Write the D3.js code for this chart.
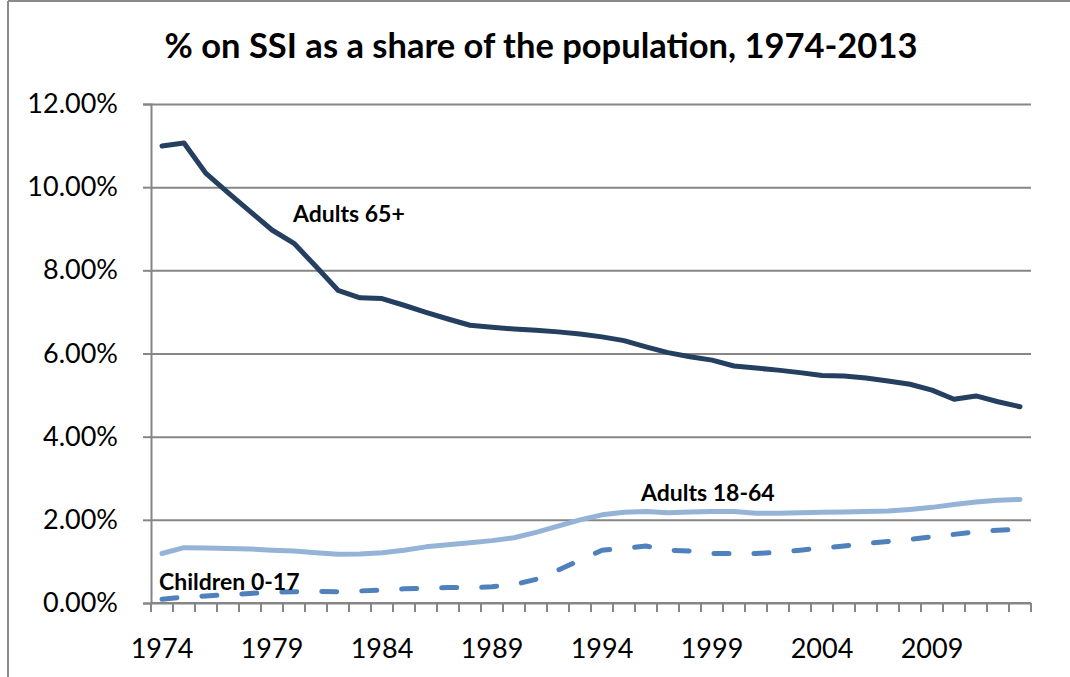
<!DOCTYPE html>
<html>
<head>
<meta charset="utf-8">
<script src="https://cdn.jsdelivr.net/npm/d3@7"></script>
<style>
  html, body { margin: 0; padding: 0; background: #fff; }
  svg { display: block; }
  text { font-family: Lato, "Open Sans", "Liberation Sans", sans-serif; fill: #000; }
</style>
</head>
<body>
<svg id="chart" width="1070" height="677"></svg>
<script>
const years = d3.range(1974, 2014);
const tickYears = [1974, 1979, 1984, 1989, 1994, 1999, 2004, 2009];
const yTicks = [0, 2, 4, 6, 8, 10, 12];

const adults65 = [10.99, 11.06, 10.33, 9.87, 9.42, 8.97, 8.65, 8.09, 7.52, 7.34,
                  7.32, 7.16, 6.99, 6.83, 6.68, 6.63, 6.59, 6.56, 6.52, 6.47,
                  6.40, 6.31, 6.16, 6.02, 5.92, 5.84, 5.70, 5.65, 5.60, 5.54,
                  5.47, 5.46, 5.41, 5.34, 5.26, 5.12, 4.90, 4.98, 4.84, 4.72];
const adults1864 = [1.19, 1.33, 1.32, 1.31, 1.30, 1.27, 1.25, 1.21, 1.17, 1.18,
                    1.21, 1.27, 1.35, 1.40, 1.45, 1.50, 1.57, 1.70, 1.85, 2.00,
                    2.12, 2.18, 2.20, 2.17, 2.19, 2.20, 2.20, 2.16, 2.16, 2.17,
                    2.18, 2.19, 2.20, 2.21, 2.25, 2.30, 2.37, 2.43, 2.47, 2.49];
const children = [0.09, 0.14, 0.17, 0.20, 0.23, 0.26, 0.27, 0.28, 0.27, 0.29,
                  0.31, 0.34, 0.35, 0.37, 0.37, 0.39, 0.44, 0.57, 0.79, 1.03,
                  1.27, 1.31, 1.37, 1.27, 1.25, 1.19, 1.19, 1.19, 1.22, 1.27,
                  1.32, 1.37, 1.43, 1.48, 1.53, 1.59, 1.65, 1.71, 1.75, 1.77];

const title = "% on SSI as a share of the population, 1974-2013";

const svg = d3.select("#chart");
const plot = { left: 151, right: 1031, top: 104, bottom: 603 };

// outer frame (left and top edges visible)
svg.append("line").attr("x1", 8).attr("x2", 8).attr("y1", 1).attr("y2", 677)
   .attr("stroke", "#8a8a8a").attr("stroke-width", 2);
svg.append("line").attr("x1", 8).attr("x2", 1070).attr("y1", 1).attr("y2", 1)
   .attr("stroke", "#8a8a8a").attr("stroke-width", 2);

const x = d3.scaleBand().domain(years).range([plot.left, plot.right]);
const y = d3.scaleLinear().domain([0, 12]).range([plot.bottom, plot.top]);
const cx = yr => x(yr) + x.bandwidth() / 2;

// gridlines + y axis
const yAxis = d3.axisLeft(y).tickValues(yTicks)
  .tickFormat(d => d.toFixed(2) + "%")
  .tickSize(8).tickPadding(25);
const gy = svg.append("g").attr("transform", `translate(${plot.left},0)`).call(yAxis);
gy.select(".domain").attr("stroke", "#868686").attr("stroke-width", 2);
gy.selectAll(".tick line").attr("stroke", "#868686").attr("stroke-width", 2);
gy.selectAll(".tick").append("line")
  .attr("x1", 0).attr("x2", plot.right - plot.left)
  .attr("stroke", "#868686").attr("stroke-width", 2);
gy.selectAll(".tick text").attr("font-size", 27).attr("fill", "#000")
  .style("font-family", "Lato, sans-serif");

// x axis with ticks between categories
const gx = svg.append("g").attr("transform", `translate(0,${plot.bottom})`);
gx.append("line").attr("x1", plot.left).attr("x2", plot.right)
  .attr("stroke", "#868686").attr("stroke-width", 2);
const boundaries = years.map(yr => x(yr)).concat([plot.right]);
gx.selectAll("line.tk").data(boundaries).join("line").attr("class", "tk")
  .attr("x1", d => d).attr("x2", d => d).attr("y1", 0).attr("y2", 9)
  .attr("stroke", "#868686").attr("stroke-width", 2);
gx.selectAll("text.yl").data(tickYears).join("text").attr("class", "yl")
  .attr("x", d => cx(d)).attr("y", 55)
  .attr("text-anchor", "middle").attr("font-size", 27)
  .text(d => d);

// lines
const line = d3.line().x((d, i) => cx(years[i])).y(d => y(d));
svg.append("path").datum(adults1864).attr("d", line)
  .attr("fill", "none").attr("stroke", "#95B3D7").attr("stroke-width", 5)
  .attr("stroke-linejoin", "round").attr("stroke-linecap", "round");
svg.append("path").datum(children).attr("d", line)
  .attr("fill", "none").attr("stroke", "#4F81BD").attr("stroke-width", 5)
  .attr("stroke-dasharray", "15,25")
  .attr("stroke-linejoin", "round").attr("stroke-linecap", "round");
svg.append("path").datum(adults65).attr("d", line)
  .attr("fill", "none").attr("stroke", "#243F60").attr("stroke-width", 5)
  .attr("stroke-linejoin", "round").attr("stroke-linecap", "round");

// series labels
const labels = [
  { t: "Adults 65+", x: 293, y: 222 },
  { t: "Adults 18-64", x: 641, y: 501 },
  { t: "Children 0-17", x: 159, y: 590 }
];
svg.selectAll("text.sl").data(labels).join("text").attr("class", "sl")
  .attr("x", d => d.x).attr("y", d => d.y)
  .attr("font-size", 23).attr("font-weight", "bold")
  .text(d => d.t);

// title
svg.append("text").attr("x", 541).attr("y", 58)
  .attr("text-anchor", "middle").attr("font-size", 34.5).attr("font-weight", "bold")
  .text(title);
</script>
</body>
</html>
